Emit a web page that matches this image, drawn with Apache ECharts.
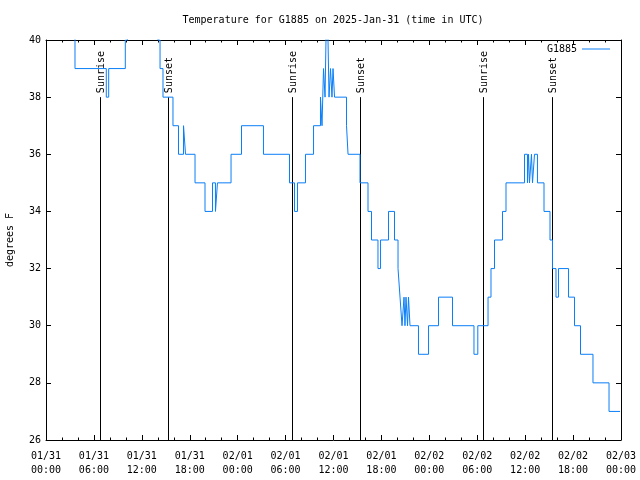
<!DOCTYPE html>
<html>
<head>
<meta charset="utf-8">
<script src="https://cdn.jsdelivr.net/npm/echarts@6/dist/echarts.min.js"></script>
<style>html,body{margin:0;padding:0;background:#fff}#c{width:640px;height:480px}</style>
</head>
<body>
<div id="c"></div>
<script>
// Time base: 2025-01-31 00:00 UTC; times are hours since base
const baseTime = Date.UTC(2025, 0, 31, 0, 0);
const HOUR = 3600000;

const tempHours = [0.00, 3.63, 7.55, 7.85, 9.93, 10.21, 14.02, 14.28, 14.65, 15.90, 16.59, 17.22, 17.47, 18.66, 19.91,
  20.85, 21.22, 21.47, 23.17, 24.48, 27.23, 30.49, 31.12, 31.49, 32.49, 33.50, 34.37, 34.56, 34.75, 34.94, 35.06,
  35.25, 35.44, 35.63, 35.81, 35.94, 36.13, 37.63, 37.82, 39.32, 40.32, 40.76, 41.57, 41.89, 42.89, 43.64, 44.08,
  44.33, 44.58, 44.83, 44.95, 45.08, 45.27, 45.39, 45.58, 46.64, 47.90, 49.15, 50.90, 53.59, 54.07, 55.35, 55.72,
  56.16, 57.16, 57.60, 59.92, 60.29, 60.42, 60.54, 60.79, 60.92, 61.17, 61.54, 62.36, 63.11, 63.42, 63.86, 64.17,
  65.43, 66.18, 66.93, 68.49, 70.50, 71.88];
const tempValues = [41, 39, 38, 39, 40, 41, 40, 39, 38, 37, 36, 37, 36, 35, 34,
  35, 34, 35, 36, 37, 36, 35, 34, 35, 36, 37, 38, 37, 39, 38, 40,
  41, 38, 39, 38, 39, 38, 37, 36, 35, 34, 33, 32, 33, 34, 33, 32,
  31, 30, 31, 30, 31, 30, 31, 30, 29, 30, 31, 30, 29, 30, 31, 32,
  33, 34, 35, 36, 35, 36, 35, 36, 35, 36, 35, 34, 33, 32, 31, 32,
  31, 30, 29, 28, 27, 27];

const sunHours = [6.80, 15.28, 30.77, 39.32, 54.74, 63.38];
const sunLabels = ['Sunrise', 'Sunset', 'Sunrise', 'Sunset', 'Sunrise', 'Sunset'];
const sunLineBottom = 26;
const sunLineTop = 38;

const xTickLabels = ['01/31\n00:00', '01/31\n06:00', '01/31\n12:00', '01/31\n18:00', '02/01\n00:00', '02/01\n06:00',
  '02/01\n12:00', '02/01\n18:00', '02/02\n00:00', '02/02\n06:00', '02/02\n12:00', '02/02\n18:00', '02/03\n00:00'];
const yMin = 26, yMax = 40, yStep = 2;

const FONT = 'DejaVu Sans Mono';
const LINE_COLOR = '#0a7ef7';
const tempData = tempHours.map((h, i) => [baseTime + h * HOUR, tempValues[i]]);
const sunData = sunHours.map(h => [baseTime + h * HOUR, sunLineTop]);

const xMin = baseTime, xMax = baseTime + 72 * HOUR, xStep = 6 * HOUR;

const chart = echarts.init(document.getElementById('c'), null, {renderer: 'canvas'});
const axisCommon = {
  axisLine: {show: true, lineStyle: {color: '#000', width: 1}},
  splitLine: {show: false},
};
chart.setOption({
  animation: false,
  backgroundColor: '#fff',
  title: {
    text: 'Temperature for G1885 on 2025-Jan-31 (time in UTC)',
    left: 328, top: 10, textAlign: 'center',
    textStyle: {fontFamily: FONT, fontSize: 10, fontWeight: 'normal', color: '#000'}
  },
  legend: {
    right: 25, top: 39, align: 'right', itemWidth: 28, itemHeight: 1, itemGap: 5,
    icon: 'rect',
    textStyle: {fontFamily: FONT, fontSize: 10, color: '#000'},
    data: ['G1885']
  },
  grid: {left: 46, right: 19, top: 40, bottom: 40, outerBoundsMode: 'none', containLabel: false},
  xAxis: [{
    type: 'value', min: xMin, max: xMax, interval: xStep, position: 'bottom',
    ...axisCommon,
    axisTick: {show: true, inside: true, length: 5, lineStyle: {color: '#000'}},
    minorTick: {show: true, splitNumber: 3, length: 2.5, lineStyle: {color: '#000'}},
    axisLabel: {
      fontFamily: FONT, fontSize: 10, color: '#000', margin: 9, lineHeight: 14,
      formatter: v => xTickLabels[Math.round((v - xMin) / xStep)]
    }
  }, {
    type: 'value', min: xMin, max: xMax, interval: xStep, position: 'top',
    ...axisCommon,
    axisTick: {show: true, inside: true, length: 5, lineStyle: {color: '#000'}},
    minorTick: {show: true, splitNumber: 3, length: 2.5, lineStyle: {color: '#000'}},
    axisLabel: {show: false}
  }],
  yAxis: [{
    type: 'value', min: yMin, max: yMax, interval: yStep, position: 'left',
    ...axisCommon,
    name: 'degrees F', nameLocation: 'middle', nameGap: 31, nameRotate: 90,
    nameTextStyle: {fontFamily: FONT, fontSize: 10, color: '#000'},
    axisTick: {show: true, inside: true, length: 5, lineStyle: {color: '#000'}},
    axisLabel: {fontFamily: FONT, fontSize: 10, color: '#000', margin: 5}
  }, {
    type: 'value', min: yMin, max: yMax, interval: yStep, position: 'right',
    ...axisCommon,
    axisTick: {show: true, inside: true, length: 5, lineStyle: {color: '#000'}},
    axisLabel: {show: false}
  }],
  series: [{
    type: 'custom',
    name: 'sun',
    z: 1,
    data: sunData,
    renderItem: (params, api) => {
      const t = api.value(0);
      const p0 = api.coord([t, sunLineBottom]);
      const p1 = api.coord([t, sunLineTop]);
      const x = Math.round(p0[0]) + 0.5;
      return {
        type: 'group',
        children: [{
          type: 'line',
          shape: {x1: x, y1: p0[1], x2: x, y2: p1[1]},
          style: {stroke: '#000', lineWidth: 1}
        }, {
          type: 'text',
          x: x + 1, y: p1[1] - 4,
          rotation: Math.PI / 2,
          style: {text: sunLabels[params.dataIndex], font: '10px ' + FONT, fill: '#000',
                  align: 'left', verticalAlign: 'middle'}
        }]
      };
    }
  }, {
    type: 'line',
    name: 'G1885',
    z: 3,
    data: tempData,
    step: 'end',
    symbol: 'none',
    showSymbol: false,
    clip: true,
    lineStyle: {color: LINE_COLOR, width: 1},
    itemStyle: {color: LINE_COLOR}
  }]
});
</script>
</body>
</html>
